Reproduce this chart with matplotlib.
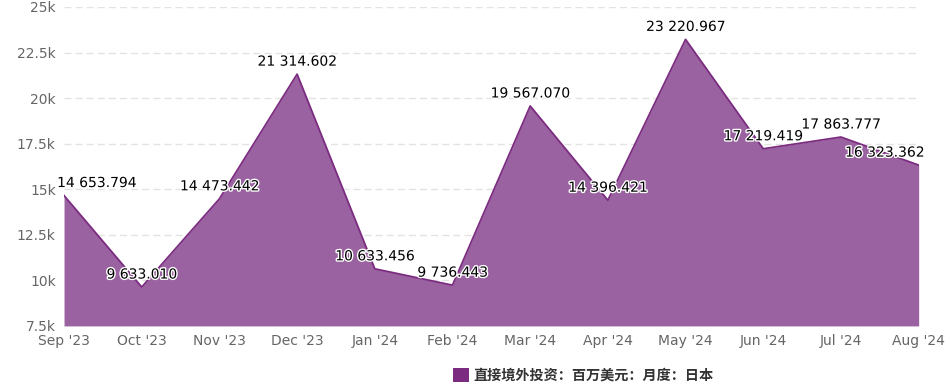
import matplotlib.pyplot as plt
import matplotlib.patheffects as pe
from matplotlib.patches import Patch
from matplotlib.ticker import FuncFormatter

# datos
months = ["Sep '23", "Oct '23", "Nov '23", "Dec '23", "Jan '24", "Feb '24",
          "Mar '24", "Apr '24", "May '24", "Jun '24", "Jul '24", "Aug '24"]
values = [14653.794, 9633.010, 14473.442, 21314.602, 10633.456, 9736.443,
          19567.070, 14396.421, 23220.967, 17219.419, 17863.777, 16323.362]
series_name = "直接境外投资：百万美元：月度：日本"

line_color = "#7B2C80"
fill_color = "#9A62A0"

plt.rcParams['font.family'] = ['DejaVu Sans']

fig = plt.figure(figsize=(9.5, 3.88), dpi=100)
ax = fig.add_axes([0.0674, 0.160, 0.8996, 0.822])

x = list(range(len(values)))
ax.fill_between(x, values, 7500, color=fill_color, linewidth=0, zorder=2)
ax.plot(x, values, color=line_color, linewidth=1.3, zorder=3)

ax.set_xlim(0, len(values) - 1)
ax.set_ylim(7500, 25000)
ax.set_yticks([7500, 10000, 12500, 15000, 17500, 20000, 22500, 25000])
ax.yaxis.set_major_formatter(FuncFormatter(lambda v, p: f"{v/1000:g}k"))
ax.set_xticks(x)
ax.set_xticklabels(months)

ax.grid(axis='y', color='#e3e3e3', linestyle=(0, (5, 3)), linewidth=1, zorder=0)
for s in ax.spines.values():
    s.set_visible(False)
ax.tick_params(axis='both', length=0, labelsize=10, colors='#666666')
ax.tick_params(axis='x', pad=6)
ax.tick_params(axis='y', pad=6)

# etiquetas de datos
for i, v in enumerate(values):
    txt = f"{v:,.3f}".replace(",", " ")
    ha, dx = 'center', 0
    if i == 0:
        ha, dx = 'left', -5
    elif i == len(values) - 1:
        ha, dx = 'right', 4
    ax.annotate(txt, xy=(i, v), xytext=(dx, 9), textcoords='offset points',
                ha=ha, va='center', fontsize=10, color='black', zorder=5,
                annotation_clip=False,
                path_effects=[pe.withStroke(linewidth=2, foreground='white')])

handle = Patch(facecolor=line_color, edgecolor='none')
fig.legend([handle], [series_name], loc='lower center', bbox_to_anchor=(0.614, -0.02),
           frameon=False, handlelength=1.1, handleheight=1.1, handletextpad=0.35,
           prop={'family': ['Noto Sans CJK SC', 'DejaVu Sans'], 'size': 10.2, 'weight': 'bold'},
           labelcolor='#333333')

fig.savefig('out.png', dpi=100)
